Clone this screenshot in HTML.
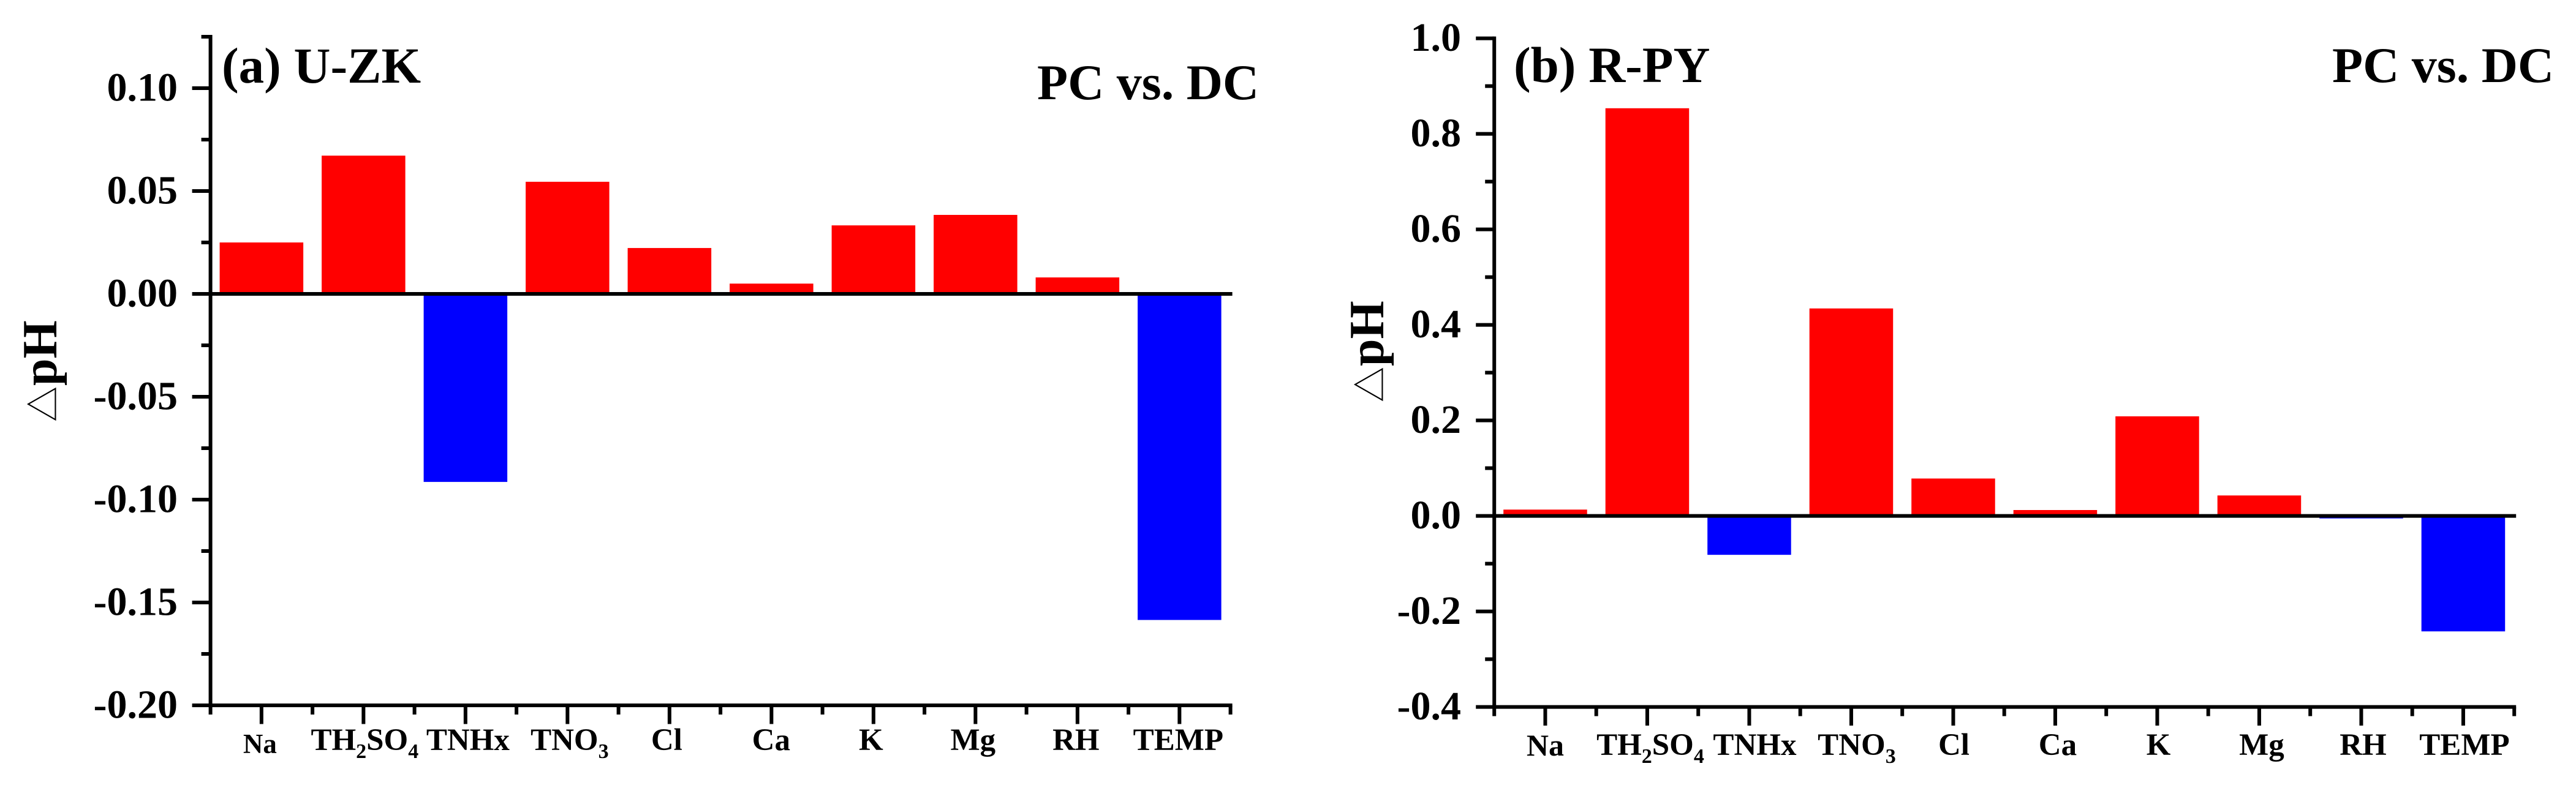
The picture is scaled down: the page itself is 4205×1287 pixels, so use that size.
<!DOCTYPE html>
<html lang="en">
<head>
<meta charset="utf-8">
<title>Delta pH PC vs. DC</title>
<style>
  html, body { margin: 0; padding: 0; background: #fff; }
  svg { display: block; }
  text { font-family: "Liberation Serif", "Noto Serif CJK SC", serif; font-weight: bold; fill: #000; }
</style>
</head>
<body>
<svg id="figure" xmlns="http://www.w3.org/2000/svg" width="4205" height="1287" viewBox="0 0 4205 1287">
  <rect x="0" y="0" width="4205" height="1287" fill="#fff"/>
  <g id="panel-a"></g>
  <g id="panel-b"></g>
  <text x="362" y="135" font-size="83">(a) U-ZK</text>
  <text x="1693" y="162" font-size="82">PC vs. DC</text>
  <text x="2471" y="134" font-size="83">(b) R-PY</text>
  <text x="3807" y="134" font-size="82">PC vs. DC</text>
  <text transform="translate(92,689) rotate(-90)" font-size="80"><tspan style="font-family:'Noto Sans CJK SC',sans-serif;font-weight:400" font-size="58">△</tspan><tspan x="59">pH</tspan></text>
  <text transform="translate(2258,657) rotate(-90)" font-size="80"><tspan style="font-family:'Noto Sans CJK SC',sans-serif;font-weight:400" font-size="58">△</tspan><tspan x="59">pH</tspan></text>
</svg>
<script>
const categories = ['Na', 'TH2SO4', 'TNHx', 'TNO3', 'Cl', 'Ca', 'K', 'Mg', 'RH', 'TEMP'];

const uzkValues = [0.025, 0.0672, -0.0914, 0.0545, 0.0223, 0.005, 0.0333, 0.0384, 0.008, -0.1585];
const uzkMajorTicks = [-0.2, -0.15, -0.1, -0.05, 0, 0.05, 0.1];
const uzkTickLabels = ['-0.20', '-0.15', '-0.10', '-0.05', '0.00', '0.05', '0.10'];
const uzkMinorTicks = [-0.175, -0.125, -0.075, -0.025, 0.025, 0.075, 0.125];

const rpyValues = [0.0132, 0.8536, -0.0815, 0.4344, 0.0783, 0.0123, 0.2085, 0.0428, -0.0053, -0.2418];
const rpyMajorTicks = [-0.4, -0.2, 0, 0.2, 0.4, 0.6, 0.8, 1];
const rpyTickLabels = ['-0.4', '-0.2', '0.0', '0.2', '0.4', '0.6', '0.8', '1.0'];
const rpyMinorTicks = [-0.3, -0.1, 0.1, 0.3, 0.5, 0.7, 0.9];

const SVG_NS = 'http://www.w3.org/2000/svg';

function makeLine(parent, x1, y1, x2, y2, width) {
  const el = document.createElementNS(SVG_NS, 'line');
  el.setAttribute('x1', x1);
  el.setAttribute('y1', y1);
  el.setAttribute('x2', x2);
  el.setAttribute('y2', y2);
  el.setAttribute('stroke', '#000');
  el.setAttribute('stroke-width', width);
  parent.appendChild(el);
  return el;
}

function drawPanel(cfg) {
  const root = document.getElementById(cfg.id);
  const yOf = v => cfg.yBottom + (v - cfg.yMin) * (cfg.yTop - cfg.yBottom) / (cfg.yMax - cfg.yMin);
  const band = (cfg.xRight - cfg.xLeft) / cfg.cats.length;
  const xOf = i => cfg.xLeft + band * (i + 0.5);
  const barWidth = band * 0.82;
  const zero = yOf(0);

  cfg.values.forEach((v, i) => {
    const el = document.createElementNS(SVG_NS, 'rect');
    
    
    el.setAttribute('x', xOf(i) - barWidth / 2);
    el.setAttribute('y', Math.min(yOf(v), zero));
    el.setAttribute('width', barWidth);
    el.setAttribute('height', Math.abs(yOf(v) - zero));
    el.setAttribute('fill', v >= 0 ? '#ff0000' : '#0000ff');
    root.appendChild(el);
  });

  const yAxis = makeLine(root, cfg.xLeft, cfg.yTop - 3, cfg.xLeft, cfg.yBottom + 3, 6);
  
  

  const xAxis = makeLine(root, cfg.xLeft - 3, cfg.yBottom, cfg.xRight + 3, cfg.yBottom, 6);
  
  

  const zeroLine = makeLine(root, cfg.xLeft - 3, zero, cfg.xRight + 3, zero, 6);
  
  

  cfg.major.forEach((v, i) => {
    const tick = makeLine(root, cfg.xLeft - 30, yOf(v), cfg.xLeft, yOf(v), 6);
    
    

    const label = document.createElementNS(SVG_NS, 'text');
    
    
    label.setAttribute('x', cfg.labelRight);
    label.setAttribute('y', yOf(v) + 20.5);
    label.setAttribute('font-size', 66);
    label.setAttribute('text-anchor', 'end');
    label.textContent = cfg.labels[i];
    root.appendChild(label);
  });

  cfg.minor.forEach(v => {
    const tick = makeLine(root, cfg.xLeft - 15, yOf(v), cfg.xLeft, yOf(v), 6);
    
    
  });

  cfg.cats.forEach((name, i) => {
    const major = makeLine(root, xOf(i), cfg.yBottom, xOf(i), cfg.yBottom + 30.5, 6);
    
    

    const minor = makeLine(root, cfg.xLeft + band * i, cfg.yBottom, cfg.xLeft + band * i, cfg.yBottom + 15, 6);
    
    

    const label = document.createElementNS(SVG_NS, 'text');
    
    
    label.setAttribute('x', xOf(i) + cfg.labelNudge[i]);
    label.setAttribute('y', cfg.labelBaseline + (name === 'Na' ? cfg.naDrop : 0));
    label.setAttribute('font-size', name === 'Na' ? cfg.naSize : 51);
    label.setAttribute('text-anchor', 'middle');
    let lowered = false;
    name.split(/(\d)/).filter(Boolean).forEach(part => {
      const span = document.createElementNS(SVG_NS, 'tspan');
      const isSub = /\d/.test(part);
      if (isSub) {
        span.setAttribute('font-size', 34);
        span.setAttribute('dy', 13);
      } else if (lowered) {
        span.setAttribute('dy', -13);
      }
      lowered = isSub;
      span.textContent = part;
      label.appendChild(span);
    });
    root.appendChild(label);
  });

  const endTick = makeLine(root, cfg.xRight, cfg.yBottom, cfg.xRight, cfg.yBottom + 15, 6);
  
  
}

drawPanel({
  id: 'panel-a', cats: categories, values: uzkValues,
  major: uzkMajorTicks, labels: uzkTickLabels, minor: uzkMinorTicks,
  yMin: -0.2, yMax: 0.125, yBottom: 1152, yTop: 60,
  xLeft: 343.6, xRight: 2008.6, labelRight: 290, labelBaseline: 1225, naSize: 45, naDrop: 5,
  labelNudge: [-2.5, 2, 4, 3.5, -4.5, -0.5, -4, -4, -2.5, -2]
});

drawPanel({
  id: 'panel-b', cats: categories, values: rpyValues,
  major: rpyMajorTicks, labels: rpyTickLabels, minor: rpyMinorTicks,
  yMin: -0.4, yMax: 1, yBottom: 1154.6, yTop: 62.6,
  xLeft: 2439.2, xRight: 4104.2, labelRight: 2385, labelBaseline: 1233, naSize: 50, naDrop: 1,
  labelNudge: [0, 5, 9, 9, 1, 4, 2, 4, 3, 2]
});
</script>
</body>
</html>
